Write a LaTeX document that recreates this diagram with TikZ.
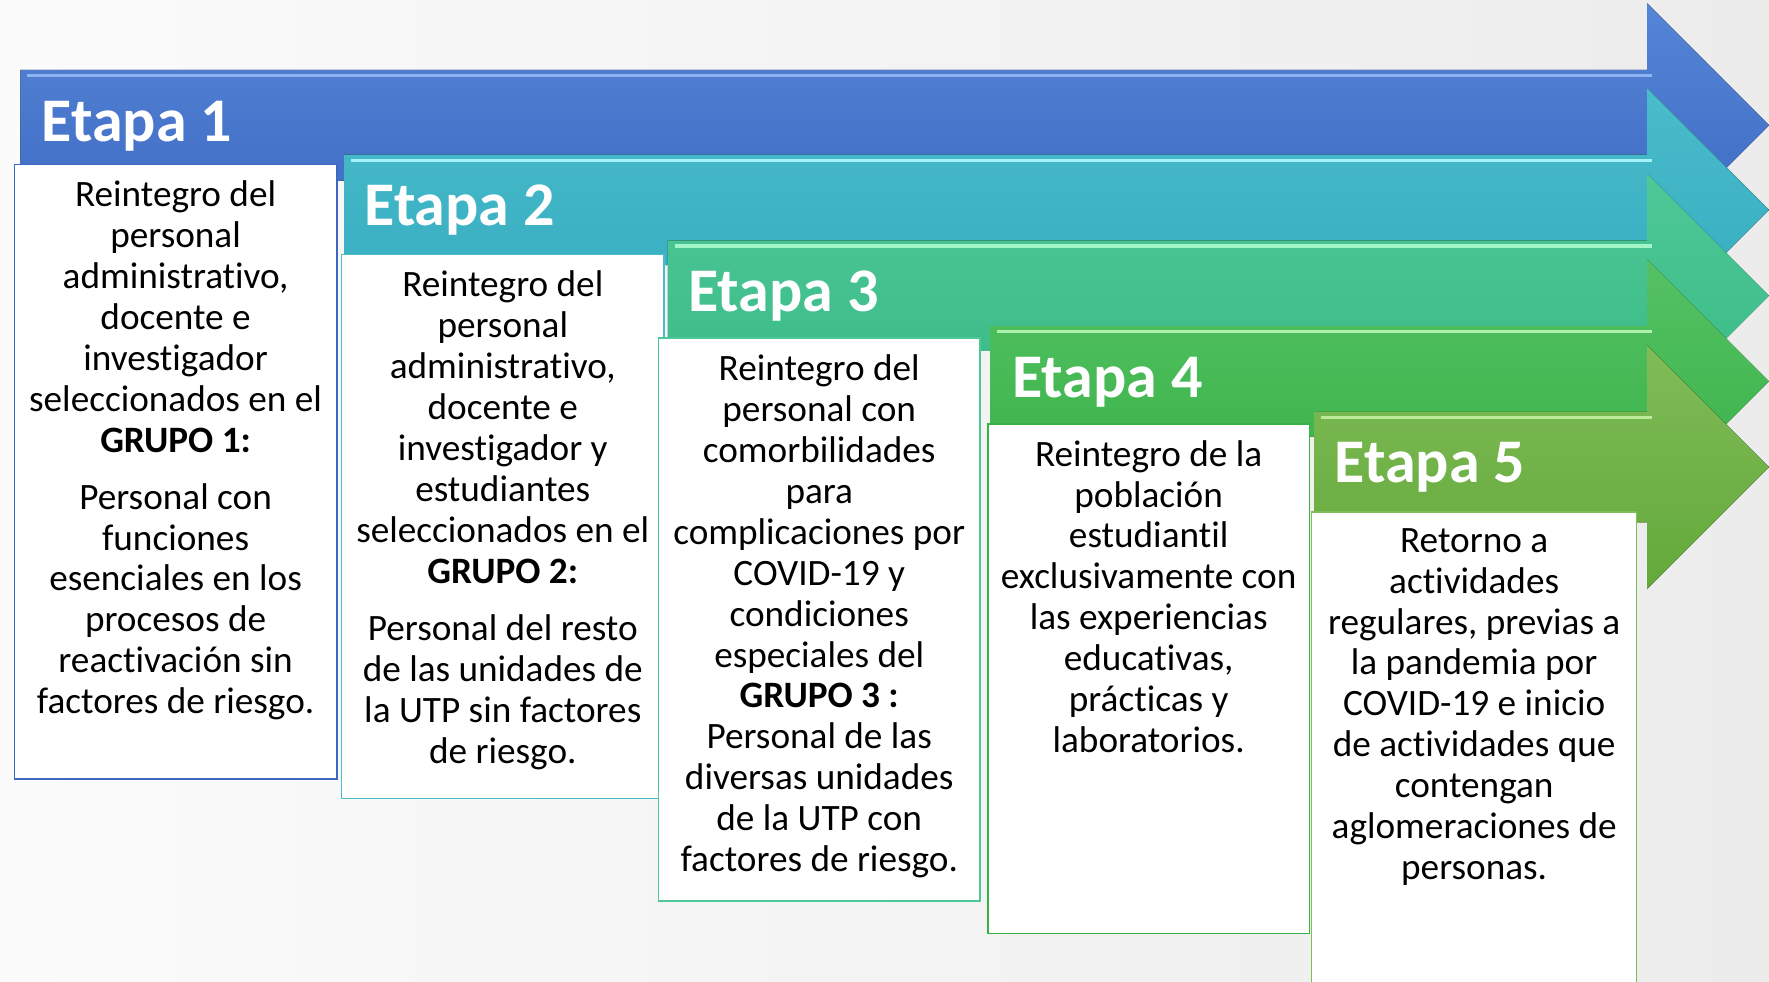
\documentclass[tikz,border=0pt]{standalone}
\usepackage{fontspec}
\setmainfont[Ligatures=NoCommon]{Carlito}
\usetikzlibrary{positioning}

\definecolor{fondoA}{HTML}{FBFBFB}
\definecolor{fondoB}{HTML}{ECECEC}
\definecolor{azulA}{HTML}{5585D6}
\definecolor{azulB}{HTML}{3C68C2}
\definecolor{azulC}{HTML}{8DB3F2}
\definecolor{turqA}{HTML}{4ABCCB}
\definecolor{turqB}{HTML}{33ABBF}
\definecolor{turqC}{HTML}{A2F4F8}
\definecolor{marA}{HTML}{4FC898}
\definecolor{marB}{HTML}{37B984}
\definecolor{marC}{HTML}{A4F4C9}
\definecolor{verdeA}{HTML}{55C164}
\definecolor{verdeB}{HTML}{38B247}
\definecolor{verdeC}{HTML}{AEF0AE}
\definecolor{limaA}{HTML}{80BC57}
\definecolor{limaB}{HTML}{63A93B}
\definecolor{limaC}{HTML}{BDE99A}

\begin{document}
\begin{tikzpicture}[x=1pt, y=-1pt,
    caja/.style={draw, fill=white, line width=1.3pt, anchor=north west, inner sep=0pt},
    txt/.style={align=center, inner sep=0pt, font=\fontsize{33}{36.3}\selectfont},
    etapa/.style={text=white, anchor=base west, inner sep=0pt,
                  font=\bfseries\fontsize{55}{60}\selectfont},
    brillo/.style={line width=3pt}
]

\fill[left color=fondoA, right color=fondoB] (0,0) rectangle (1568,870);
\useasboundingbox (0,0) rectangle (1568,870);
\clip (0,0) rectangle (1568,870);

% Etapa 1
\fill[top color=azulA, bottom color=azulB] (18,62) -- (1460,62) -- (1460,3) -- (1568,111)
    -- (1460,219) -- (1460,160) -- (18,160) -- cycle;
\draw[brillo, azulC] (24,67) -- (1464,67);
\node[etapa] (e1) at (37,125) {Etapa 1};
\node[caja, draw=azulB, minimum width=286, minimum height=545] (box1) at (12,145) {};
\node[txt, below=15pt of box1.north] (t1) {Reintegro del\\personal\\administrativo,\\docente e\\investigador\\
    seleccionados en el\\\textbf{GRUPO 1:}\\[14pt]Personal con\\funciones\\esenciales en los\\procesos de\\
    reactivación sin\\factores de riesgo.};

% Etapa 2
\fill[top color=turqA, bottom color=turqB] (305,137) -- (1460,137) -- (1460,78) -- (1568,186)
    -- (1460,294) -- (1460,235) -- (305,235) -- cycle;
\draw[brillo, turqC] (311,142) -- (1464,142);
\node[etapa] (e2) at (323,200) {Etapa 2};
\node[caja, draw=turqA, minimum width=286, minimum height=482] (box2) at (302,225) {};
\node[txt, below=15pt of box2.north] (t2) {Reintegro del\\personal\\administrativo,\\docente e\\investigador y\\
    estudiantes\\seleccionados en el\\\textbf{GRUPO 2:}\\[14pt]Personal del resto\\de las unidades de\\
    la UTP sin factores\\de riesgo.};

% Etapa 3
\fill[top color=marA, bottom color=marB] (592,213) -- (1460,213) -- (1460,154) -- (1568,262)
    -- (1460,370) -- (1460,311) -- (592,311) -- cycle;
\draw[brillo, marC] (598,218) -- (1464,218);
\node[etapa] (e3) at (610,276) {Etapa 3};
\node[caja, draw=marA, minimum width=285, minimum height=499] (box3) at (583,299) {};
\node[txt, below=15pt of box3.north] (t3) {Reintegro del\\personal con\\comorbilidades\\para\\complicaciones por\\
    COVID-19 y\\condiciones\\especiales del\\\textbf{GRUPO 3 :}\\Personal de las\\diversas unidades\\
    de la UTP con\\factores de riesgo.};

% Etapa 4
\fill[top color=verdeA, bottom color=verdeB] (878,289) -- (1460,289) -- (1460,230) -- (1568,338)
    -- (1460,446) -- (1460,387) -- (878,387) -- cycle;
\draw[brillo, verdeC] (884,294) -- (1464,294);
\node[etapa] (e4) at (897,352) {Etapa 4};
\node[caja, draw=verdeB, minimum width=285, minimum height=452] (box4) at (875,375) {};
\node[txt, below=15pt of box4.north] (t4) {Reintegro de la\\población\\estudiantil\\exclusivamente con\\
    las experiencias\\educativas,\\prácticas y\\laboratorios.};

% Etapa 5
\fill[top color=limaA, bottom color=limaB] (1165,365) -- (1460,365) -- (1460,306) -- (1568,414)
    -- (1460,522) -- (1460,463) -- (1165,463) -- cycle;
\draw[brillo, limaC] (1171,370) -- (1464,370);
\node[etapa] (e5) at (1183,428) {Etapa 5};
\node[caja, draw=limaA, minimum width=288, minimum height=440] (box5) at (1162,453) {};
\node[txt, below=15pt of box5.north] (t5) {Retorno a\\actividades\\regulares, previas a\\la pandemia por\\
    COVID-19 e inicio\\de actividades que\\contengan\\aglomeraciones de\\personas.};

\end{tikzpicture}
\end{document}
